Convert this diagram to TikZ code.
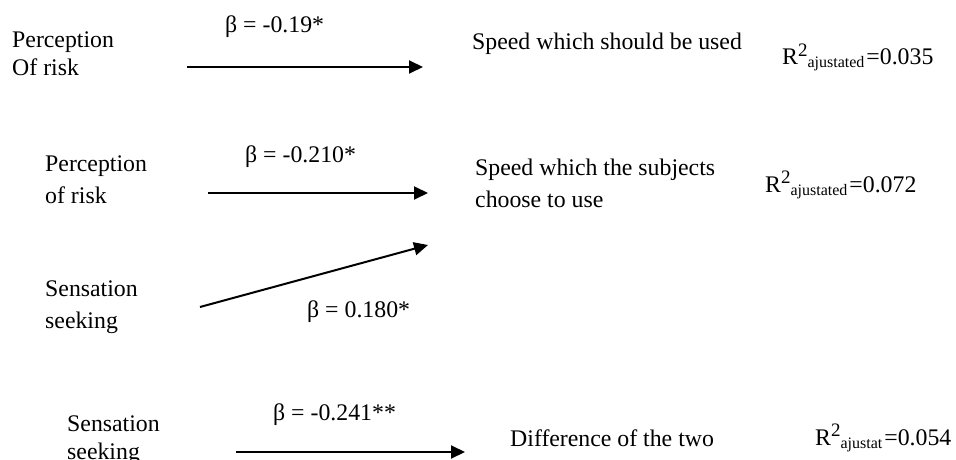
\documentclass[tikz,border=0pt]{standalone}
\usepackage{fontspec}
\setmainfont{Liberation Serif}
\usetikzlibrary{arrows.meta}
\tikzset{
  lbl/.style={anchor=base west, inner sep=0pt, font=\fontsize{23.8}{27.5}\selectfont, align=left},
  lblwide/.style={lbl, font=\fontsize{23.8}{31.5}\selectfont},
  conn/.style={line width=2pt, -{Triangle[length=14pt,width=13pt]}},
}
\newcommand{\rsqd}[2]{R\raisebox{9pt}{\fontsize{19}{19}\selectfont 2}\raisebox{-3pt}{\fontsize{16}{16}\selectfont #1}\kern2pt=#2}
\begin{document}
\begin{tikzpicture}[x=1pt,y=-1pt]
\useasboundingbox (0,0) rectangle (956,460);
% Row 1 (multi-line nodes are placed by the baseline of their last line)
\node[lbl] (p1) at (12,75) {Perception\\Of risk};
\node[lbl] (b1) at (225,33) {β = -0.19*};
\node[lbl] (s1) at (472,50) {Speed which should be used};
\node[lbl] (r1) at (782,65) {\rsqd{ajustated}{0.035}};
\coordinate (a1s) at (187,67);
\coordinate (a1e) at (423,67);
\draw[conn] (a1s) -- (a1e);
% Row 2
\node[lblwide] (p2) at (45,203) {Perception\\of risk};
\node[lbl] (b2) at (245,162) {β = -0.210*};
\node[lblwide] (s2) at (475,207) {Speed which the subjects\\choose to use};
\node[lbl] (r2) at (765,192) {\rsqd{ajustated}{0.072}};
\node[lblwide] (ss2) at (45,328) {Sensation\\seeking};
\node[lbl] (b3) at (307,317) {β = 0.180*};
\coordinate (a2s) at (208,193);
\coordinate (a2e) at (428,193);
\coordinate (a3s) at (200,307);
\coordinate (a3e) at (428,245);
\draw[conn] (a2s) -- (a2e);
\draw[conn] (a3s) -- (a3e);
% Row 3
\node[lbl] (ss3) at (67,459) {Sensation\\seeking};
\node[lbl] (b4) at (273,420) {β = -0.241**};
\node[lbl] (d3) at (510,446) {Difference of the two};
\node[lbl] (r3) at (815,445) {\rsqd{ajustat}{0.054}};
\coordinate (a4s) at (236,452);
\coordinate (a4e) at (465,452);
\draw[conn] (a4s) -- (a4e);
\end{tikzpicture}
\end{document}
